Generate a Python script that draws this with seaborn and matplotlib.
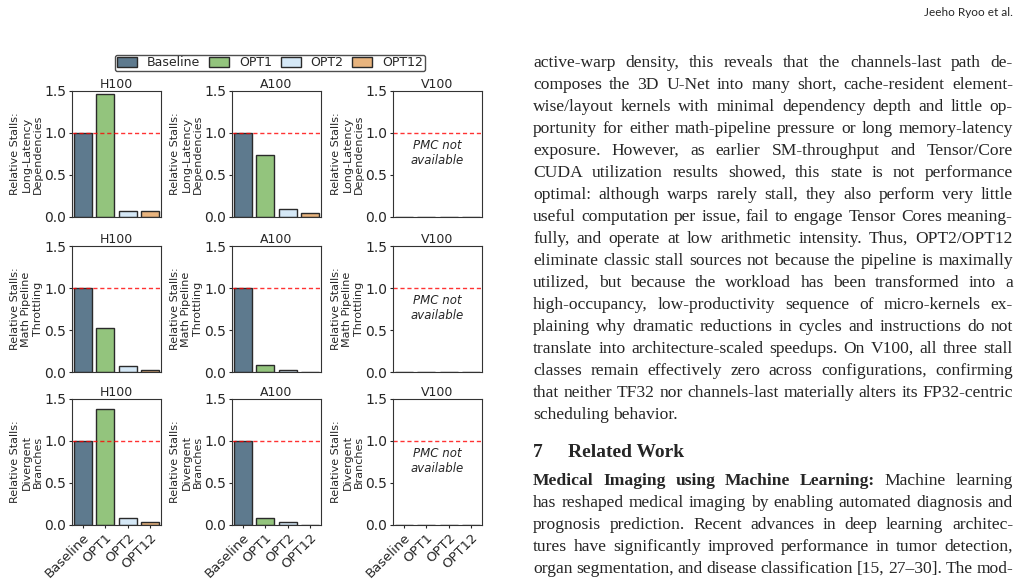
import numpy as np
import pandas as pd
import matplotlib
matplotlib.use("Agg")
import matplotlib.pyplot as plt
from matplotlib.patches import Patch
import seaborn as sns

# configurations and GPUs
configs = ["Baseline", "OPT1", "OPT2", "OPT12"]
gpus = ["H100", "A100", "V100"]
stall_labels = [
    "Relative Stalls:\nLong-Latency\nDependencies",
    "Relative Stalls:\nMath Pipeline\nThrottling",
    "Relative Stalls:\nDivergent\nBranches",
]

# relative stalls per GPU (H100, A100, V100), one list per stall class
long_latency = [[1.0, 1.46, 0.07, 0.07], [1.0, 0.74, 0.095, 0.05], [0.0, 0.0, 0.0, 0.0]]
math_pipeline = [[1.0, 0.52, 0.07, 0.028], [1.0, 0.083, 0.028, 0.004], [0.0, 0.0, 0.0, 0.0]]
divergent = [[1.0, 1.38, 0.083, 0.031], [1.0, 0.083, 0.031, 0.004], [0.0, 0.0, 0.0, 0.0]]
missing_gpu = "V100"

colors = ["#5e7a8e", "#93c47d", "#d5e8f6", "#e8b47e"]

# page text next to the figure
header = "Jeeho Ryoo et al."
para1 = [
    "active-warp density, this reveals that the channels-last path de-",
    "composes the 3D U-Net into many short, cache-resident element-",
    "wise/layout kernels with minimal dependency depth and little op-",
    "portunity for either math-pipeline pressure or long memory-latency",
    "exposure. However, as earlier SM-throughput and Tensor/Core",
    "CUDA utilization results showed, this state is not performance",
    "optimal: although warps rarely stall, they also perform very little",
    "useful computation per issue, fail to engage Tensor Cores meaning-",
    "fully, and operate at low arithmetic intensity. Thus, OPT2/OPT12",
    "eliminate classic stall sources not because the pipeline is maximally",
    "utilized, but because the workload has been transformed into a",
    "high-occupancy, low-productivity sequence of micro-kernels ex-",
    "plaining why dramatic reductions in cycles and instructions do not",
    "translate into architecture-scaled speedups. On V100, all three stall",
    "classes remain effectively zero across configurations, confirming",
    "that neither TF32 nor channels-last materially alters its FP32-centric",
    "scheduling behavior.",
]
section_num = "7"
section_title = "Related Work"
para2 = [
    "Medical Imaging using Machine Learning: Machine learning",
    "has reshaped medical imaging by enabling automated diagnosis and",
    "prognosis prediction. Recent advances in deep learning architec-",
    "tures have significantly improved performance in tumor detection,",
    "organ segmentation, and disease classification [15, 27\u201330]. The mod-",
]

sns.set_style("ticks")
plt.rcParams["font.family"] = ["DejaVu Sans"]

W, H = 1023, 588
fig = plt.figure(figsize=(W / 100, H / 100), dpi=100)


def px_axes(left, top, width, height):
    return fig.add_axes([left / W, 1 - (top + height) / H, width / W, height / H])


col_left = [72, 232, 393]
row_top = [91, 246, 399]
palette = dict(zip(configs, colors))

for r, rows in enumerate([long_latency, math_pipeline, divergent]):
    for c, gpu in enumerate(gpus):
        ax = px_axes(col_left[c], row_top[r], 89, 126)
        df = pd.DataFrame({"config": configs, "value": rows[c]})
        sns.barplot(data=df, x="config", y="value", hue="config", palette=palette,
                    saturation=1, edgecolor="#2a2a2a", linewidth=1, legend=False, ax=ax)
        ax.axhline(1.0, color="red", ls=(0, (3, 2)), lw=1, alpha=0.8)
        ax.set_ylim(0, 1.5)
        ax.set_yticks([0, 0.5, 1.0, 1.5])
        ax.tick_params(axis="y", labelsize=10, length=2.5, pad=1.5)
        ax.set_title(gpu, fontsize=9, pad=2)
        ax.set_ylabel(stall_labels[r], fontsize=8, labelpad=1)
        ax.set_xlabel("")
        if r == 2:
            ax.set_xticks(range(len(configs)))
            ax.set_xticklabels(configs, rotation=45, ha="right",
                               rotation_mode="anchor", fontsize=9.5)
            ax.tick_params(axis="x", length=2.5, pad=2)
        else:
            ax.tick_params(axis="x", bottom=False, labelbottom=False)
        for s in ax.spines.values():
            s.set_color("#333333")
        if gpu == missing_gpu:
            ax.text(0.5, 0.51, "PMC not\navailable", transform=ax.transAxes,
                    ha="center", va="center", style="italic", fontsize=8.5)

handles = [Patch(facecolor=col, edgecolor="#2a2a2a", label=cfg) for cfg, col in zip(configs, colors)]
leg = fig.legend(handles=handles, loc="center", bbox_to_anchor=(270 / W, 1 - 63 / H),
                 ncol=4, fontsize=9, frameon=True, borderpad=0.15, handlelength=1.6,
                 handleheight=0.8, handletextpad=0.8, columnspacing=0.7)
leg.get_frame().set_edgecolor("#222222")
leg.get_frame().set_linewidth(1)

# ---- page text (justified) ----
renderer = fig.canvas.get_renderer()
text_left, text_right = 533, 1013
serif = "Liberation Serif"


def natural_width(line, size, bold_words=0):
    words = line.split(" ")
    t = fig.text(0, 0, line, fontsize=size, family=serif)
    w = t.get_window_extent(renderer).width
    t.remove()
    return w


# pick the body size so that the tightest justified line has normal spacing
probe = 12.0
ratios = [(text_right - text_left) / natural_width(l, probe) for l in para1[:-1] + para2[1:]]
body_size = probe * min(ratios) * 1.01


def draw_line(y_base, line, justify=True, bold_words=0, size=None):
    size = size or body_size
    words = line.split(" ")
    arts = []
    for i, w in enumerate(words):
        arts.append(fig.text(0, 1 - y_base / H, w, fontsize=size, family=serif,
                             weight="bold" if i < bold_words else "normal", va="baseline"))
    widths = [a.get_window_extent(renderer).width for a in arts]
    if justify and len(words) > 1:
        gap = (text_right - text_left - sum(widths)) / (len(words) - 1)
    else:
        gap = size * 100 / 72 * 0.25
    x = text_left
    for a, w in zip(arts, widths):
        a.set_x(x / W)
        x += w + gap


fig.text(text_right / W, 1 - 16 / H, header, fontsize=8.5, family="Lato", ha="right", va="baseline")

for i, line in enumerate(para1):
    draw_line(67 + 22 * i, line, justify=(i < len(para1) - 1))

fig.text(text_left / W, 1 - 457 / H, section_num, fontsize=14, family=serif, weight="bold", va="baseline")
fig.text(568 / W, 1 - 457 / H, section_title, fontsize=14, family=serif, weight="bold", va="baseline")

for i, line in enumerate(para2):
    draw_line(485 + 22 * i, line, bold_words=(5 if i == 0 else 0))

fig.savefig("out.png", dpi=100)
